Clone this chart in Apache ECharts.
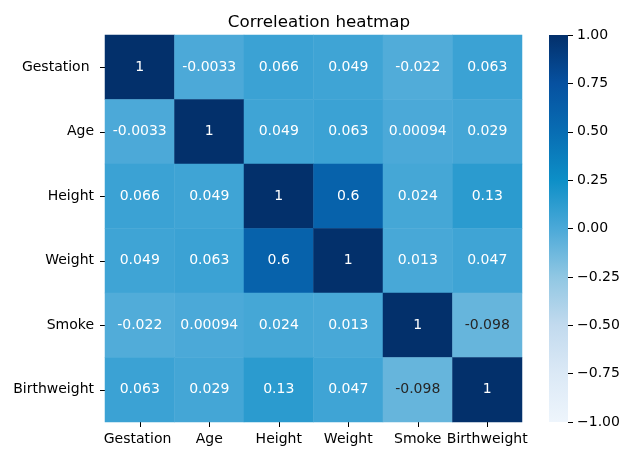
<!DOCTYPE html>
<html>
<head>
<meta charset="utf-8">
<script src="https://cdn.jsdelivr.net/npm/echarts@6/dist/echarts.min.js"></script>
<style>
html,body{margin:0;padding:0;background:#fff;}
#c{width:624px;height:449px;}
</style>
</head>
<body>
<div id="c"></div>
<script>
const categories = ['Gestation ', 'Age', 'Height', 'Weight', 'Smoke', 'Birthweight'];
const rowGestation   = [1, -0.0033, 0.066, 0.049, -0.022, 0.063];
const rowAge         = [-0.0033, 1, 0.049, 0.063, 0.00094, 0.029];
const rowHeight      = [0.066, 0.049, 1, 0.6, 0.024, 0.13];
const rowWeight      = [0.049, 0.063, 0.6, 1, 0.013, 0.047];
const rowSmoke       = [-0.022, 0.00094, 0.024, 0.013, 1, -0.098];
const rowBirthweight = [0.063, 0.029, 0.13, 0.047, -0.098, 1];
const colorbarTicks = [-1, -0.75, -0.5, -0.25, 0, 0.25, 0.5, 0.75, 1];
const blues = ['#eef5fc', '#dbe9f6', '#c2daee', '#90c7e3', '#4ba9d8', '#0d8fc7', '#086db3', '#0651a0', '#03306b'];

const rows = [rowGestation, rowAge, rowHeight, rowWeight, rowSmoke, rowBirthweight];
const data = [];
rows.forEach((r, yi) => r.forEach((v, xi) => {
  data.push({value: [xi, yi, v], label: {color: v < -0.05 ? '#262626' : '#ffffff'}});
}));

const FONT = 'DejaVu Sans';
const FS = 14;
const chart = echarts.init(document.getElementById('c'), null, {renderer: 'canvas'});
chart.setOption({
  animation: false,
  backgroundColor: '#ffffff',
  textStyle: {fontFamily: FONT},
  title: {
    text: 'Correleation heatmap',
    left: 314, top: 9, textAlign: 'center',
    textStyle: {fontFamily: FONT, fontSize: 16.7, fontWeight: 'normal', color: '#000'}
  },
  grid: [
    {left: 105, top: 35, width: 417, height: 387, containLabel: false},
    {left: 549, top: 35, width: 19, height: 387, containLabel: false}
  ],
  xAxis: [
    {
      type: 'category', data: categories, gridIndex: 0, position: 'bottom',
      axisLine: {show: false},
      axisTick: {show: true, alignWithLabel: true, length: 5, lineStyle: {color: '#000'}},
      axisLabel: {fontFamily: FONT, fontSize: FS, color: '#000', margin: 10, interval: 0},
      splitArea: {show: false}, splitLine: {show: false}
    },
    {type: 'value', gridIndex: 1, show: false, min: 0, max: 1}
  ],
  yAxis: [
    {
      type: 'category', data: categories, gridIndex: 0, inverse: true,
      axisLine: {show: false},
      axisTick: {show: true, alignWithLabel: true, length: 5, lineStyle: {color: '#000'}},
      axisLabel: {fontFamily: FONT, fontSize: FS, color: '#000', margin: 11, interval: 0},
      splitArea: {show: false}, splitLine: {show: false}
    },
    {
      type: 'value', gridIndex: 1, position: 'right', min: -1, max: 1, interval: 0.25,
      axisLine: {show: false, onZero: false},
      axisTick: {show: true, length: 5, lineStyle: {color: '#000'}},
      axisLabel: {
        fontFamily: FONT, fontSize: FS, color: '#000', margin: 9,
        formatter: v => (v < 0 ? '\u2212' : '') + Math.abs(v).toFixed(2)
      },
      splitLine: {show: false}
    }
  ],
  visualMap: {
    type: 'continuous', min: -1, max: 1, dimension: 2, seriesIndex: 0,
    show: false,
    inRange: {color: blues}
  },
  series: [{
    type: 'heatmap', xAxisIndex: 0, yAxisIndex: 0,
    data: data,
    itemStyle: {borderWidth: 0},
    label: {show: true, fontFamily: FONT, fontSize: FS, formatter: p => String(p.value[2])},
    emphasis: {disabled: true}
  }]
});

// colorbar drawn from the colorbar axis scale
const pTop = chart.convertToPixel({gridIndex: 1}, [0, 1]);
const pBot = chart.convertToPixel({gridIndex: 1}, [1, -1]);
chart.setOption({
  graphic: [{
    type: 'rect', z: 0,
    shape: {x: pTop[0], y: pTop[1], width: pBot[0] - pTop[0], height: pBot[1] - pTop[1]},
    style: {
      fill: new echarts.graphic.LinearGradient(0, 0, 0, 1,
        blues.slice().reverse().map((c, i, a) => ({offset: i / (a.length - 1), color: c})))
    }
  }]
});
</script>
</body>
</html>
